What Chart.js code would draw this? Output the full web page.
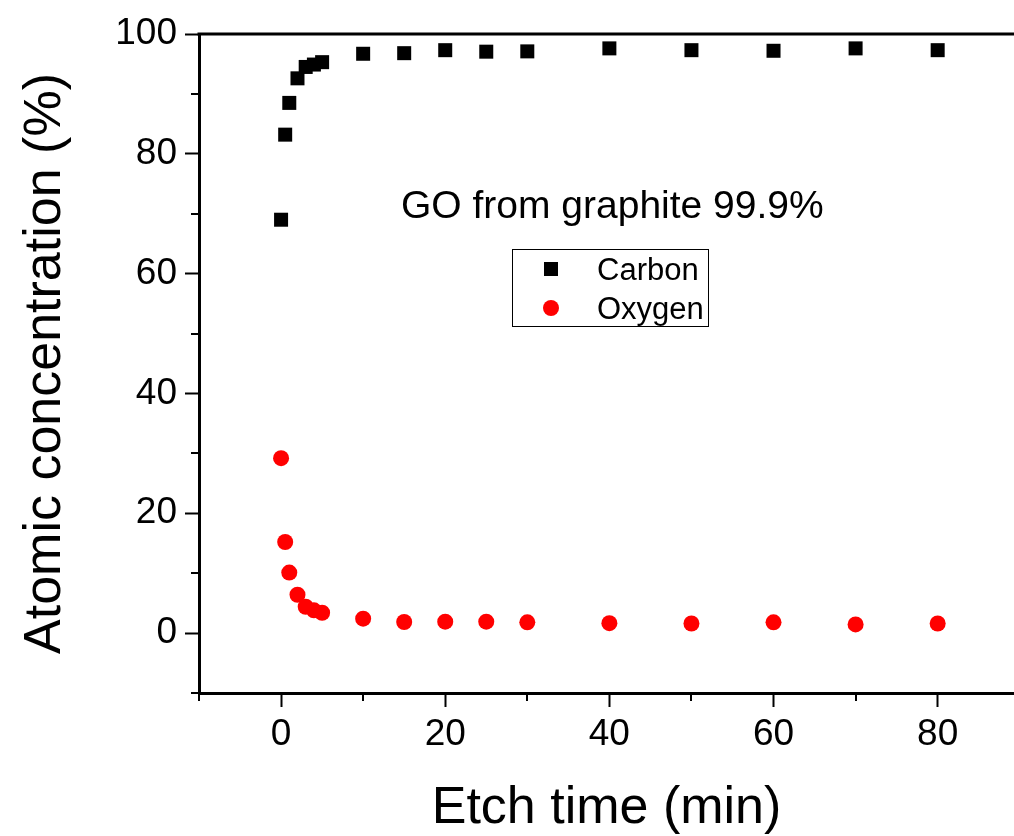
<!DOCTYPE html>
<html>
<head>
<meta charset="utf-8">
<script src="https://cdn.jsdelivr.net/npm/chart.js@4.4.1/dist/chart.umd.min.js"></script>
<style>
  html, body { margin: 0; padding: 0; background: #fff; }
  #wrap { width: 1014px; height: 836px; }
</style>
</head>
<body>
<div id="wrap"><canvas id="myChart" width="1014" height="836"></canvas></div>
<script>
// etch time (min)
const times = [0, 0.5, 1, 2, 3, 4, 5, 10, 15, 20, 25, 30, 40, 50, 60, 70, 80];
// atomic concentration (%)
const carbon = [69.0, 83.2, 88.5, 92.6, 94.5, 94.9, 95.3, 96.7, 96.8, 97.3, 97.05, 97.1, 97.6, 97.3, 97.2, 97.6, 97.3];
const oxygen = [29.2, 15.2, 10.1, 6.4, 4.4, 3.8, 3.4, 2.4, 1.85, 1.9, 1.9, 1.8, 1.65, 1.6, 1.8, 1.45, 1.6];
const seriesNames = ['Carbon', 'Oxygen'];
const xTickLabels = [0, 20, 40, 60, 80];
const yTickLabels = [0, 20, 40, 60, 80, 100];
const noteText = 'GO from graphite 99.9%';

const FONT = "'Liberation Sans', Arial, sans-serif";

function toPoints(xs, ys){
    return xs.map((x, i) => ({x: x, y: ys[i]}));
}

function isMajor(v, labels){
    return labels.indexOf(v) !== -1;
}

function isMinor(v, labels){
    return v % 10 === 0 && !isMajor(v, labels);
}

// minor ticks, top frame line, note and legend box
const extras = {
    id: 'extras',
    afterDraw(chart){
        const ctx = chart.ctx;
        const area = chart.chartArea;
        const xs = chart.scales.x;
        const ys = chart.scales.y;
        ctx.save();
        ctx.strokeStyle = '#000';
        ctx.lineWidth = 2;
        // minor ticks
        xs.ticks.forEach(t => {
            if (!isMinor(t.value, xTickLabels)) return;
            const px = Math.round(xs.getPixelForValue(t.value));
            ctx.beginPath();
            ctx.moveTo(px, area.bottom);
            ctx.lineTo(px, area.bottom + 8);
            ctx.stroke();
        });
        ys.ticks.forEach(t => {
            if (!isMinor(t.value, yTickLabels)) return;
            const py = Math.round(ys.getPixelForValue(t.value));
            ctx.beginPath();
            ctx.moveTo(area.left, py);
            ctx.lineTo(area.left - 8, py);
            ctx.stroke();
        });
        // top frame
        ctx.lineWidth = 3;
        ctx.beginPath();
        ctx.moveTo(area.left - 1.5, area.top);
        ctx.lineTo(chart.width, area.top);
        ctx.stroke();

        // note
        ctx.fillStyle = '#000';
        ctx.font = '39px ' + FONT;
        ctx.textBaseline = 'alphabetic';
        ctx.textAlign = 'left';
        ctx.fillText(noteText, area.left + 202, area.top + 184);

        // legend box
        const bx = area.left + 313, by = area.top + 215, bw = 196, bh = 77;
        ctx.lineWidth = 1;
        ctx.strokeRect(bx + 0.5, by + 0.5, bw, bh);
        ctx.font = '31px ' + FONT;
        chart.data.datasets.forEach((ds, i) => {
            const cy = by + 20 + i * 39;
            ctx.fillStyle = ds.backgroundColor;
            if (ds.pointStyle === 'rect'){
                ctx.fillRect(bx + 32, cy - 7, 14, 14);
            } else {
                ctx.beginPath();
                ctx.arc(bx + 39, cy, 8, 0, Math.PI * 2);
                ctx.fill();
            }
            ctx.fillStyle = '#000';
            ctx.fillText(ds.label, bx + 85, cy + 11);
        });
        ctx.restore();
    }
};

var ctx = document.getElementById('myChart').getContext('2d');
var chart = new Chart(ctx, {
    type: 'scatter',
    data: {
        datasets: [{
            label: seriesNames[0],
            data: toPoints(times, carbon),
            pointStyle: 'rect',
            pointRadius: 9.9,
            pointBorderWidth: 0,
            backgroundColor: '#000',
            borderColor: '#000'
        }, {
            label: seriesNames[1],
            data: toPoints(times, oxygen),
            pointStyle: 'circle',
            pointRadius: 8,
            pointBorderWidth: 0,
            backgroundColor: '#ff0000',
            borderColor: '#ff0000'
        }]
    },
    options: {
        responsive: false,
        animation: false,
        events: [],
        layout: { autoPadding: false, padding: { top: 34, right: 0, left: 0, bottom: 0 } },
        plugins: {
            legend: { display: false },
            tooltip: { enabled: false }
        },
        scales: {
            x: {
                type: 'linear',
                position: 'bottom',
                min: -10,
                max: 89.3,
                afterFit(scale){
                    scale.height = 143;
                    scale.paddingLeft = 0;
                    scale.paddingRight = 0;
                },
                border: { display: true, color: '#000', width: 3 },
                grid: {
                    drawOnChartArea: false,
                    drawTicks: true,
                    tickLength: 14,
                    tickWidth: 2,
                    tickColor: c => isMajor(c.tick.value, xTickLabels) ? '#000' : 'rgba(0,0,0,0)'
                },
                ticks: {
                    stepSize: 10,
                    includeBounds: false,
                    autoSkip: false,
                    maxRotation: 0,
                    padding: 6,
                    color: '#000',
                    font: { family: FONT, size: 37 },
                    callback: v => isMajor(v, xTickLabels) ? String(v) : ''
                },
                title: {
                    display: true,
                    text: 'Etch time (min)',
                    color: '#000',
                    font: { family: FONT, size: 52, lineHeight: 1 },
                    padding: { top: 0, bottom: 1 }
                }
            },
            y: {
                type: 'linear',
                min: -10,
                max: 100,
                afterFit(scale){ scale.width = 199; },
                border: { display: true, color: '#000', width: 3 },
                grid: {
                    drawOnChartArea: false,
                    drawTicks: true,
                    tickLength: 14,
                    tickWidth: 2,
                    tickColor: c => isMajor(c.tick.value, yTickLabels) ? '#000' : 'rgba(0,0,0,0)'
                },
                ticks: {
                    stepSize: 10,
                    autoSkip: false,
                    padding: 8,
                    color: '#000',
                    font: { family: FONT, size: 37 },
                    callback: v => isMajor(v, yTickLabels) ? String(v) : ''
                },
                title: {
                    display: true,
                    text: 'Atomic concentration (%)',
                    color: '#000',
                    font: { family: FONT, size: 52, lineHeight: 1 },
                    padding: { top: 20, bottom: 0 }
                }
            }
        }
    },
    plugins: [extras]
});
</script>
</body>
</html>
